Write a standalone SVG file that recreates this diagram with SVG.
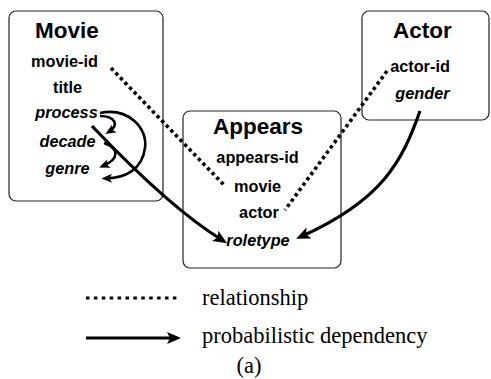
<svg xmlns="http://www.w3.org/2000/svg" width="491" height="379" viewBox="0 0 491 379">
<style>
.box{fill:#fff;stroke:#222;stroke-width:1.2}
.t{font-family:"Liberation Sans",Arial,sans-serif;font-weight:bold;font-size:22.5px;text-anchor:middle;fill:#000}
.a{font-family:"Liberation Sans",Arial,sans-serif;font-weight:bold;font-size:16.3px;text-anchor:middle;fill:#000}
.i{font-style:italic}
.leg{font-family:"Liberation Serif","Times New Roman",serif;font-size:22.5px;fill:#000}
.dot{fill:none;stroke:#000;stroke-width:3.6;stroke-dasharray:3.4 3.2}
.dep{fill:none;stroke:#000;stroke-width:3.2}
.dep2{fill:none;stroke:#000;stroke-width:2.6}
</style>
<defs>
<marker id="ah" markerUnits="userSpaceOnUse" markerWidth="15" markerHeight="13" refX="8" refY="6" orient="auto" overflow="visible">
<path d="M0,0 L14,6 L0,12 L3,6 z" fill="#000"/>
</marker>
<marker id="ahs" markerUnits="userSpaceOnUse" markerWidth="11" markerHeight="10" refX="7" refY="4.5" orient="auto" overflow="visible">
<path d="M0,0 L10.5,4.5 L0,9 L2.5,4.5 z" fill="#000"/>
</marker>
</defs>
<g id="movie">
<rect class="box" x="9" y="11" width="154" height="190" rx="7"/>
<text class="t" x="67" y="38">Movie</text>
<text class="a" x="64.5" y="67">movie-id</text>
<text class="a" x="67.5" y="93">title</text>
<text class="a i" x="66.5" y="118">process</text>
<text class="a i" x="67.5" y="147">decade</text>
<text class="a i" x="67.5" y="174">genre</text>
</g>
<g id="appears">
<rect class="box" x="183" y="111" width="158" height="157" rx="7"/>
<text class="t" x="258" y="134">Appears</text>
<text class="a" x="257.5" y="163">appears-id</text>
<text class="a" x="257.5" y="191.5">movie</text>
<text class="a" x="259" y="218">actor</text>
<text class="a i" x="258" y="246">roletype</text>
</g>
<g id="actor">
<rect class="box" x="362" y="11" width="127" height="109" rx="7"/>
<text class="t" x="422.5" y="38">Actor</text>
<text class="a" x="420" y="71.5">actor-id</text>
<text class="a i" x="422.5" y="99">gender</text>
</g>
<g id="connectors">
<path class="dot" d="M111,68 L225,186"/>
<path class="dot" d="M387,71 L285,210"/>
<path class="dep" d="M92,126 Q170,208 222,240" marker-end="url(#ah)"/>
<path class="dep" d="M420,111 C402,162 382,200 301.6,236.3" marker-end="url(#ah)"/>
<path class="dep2" d="M100,116 C115,116 120,125 108.4,132.2" marker-end="url(#ahs)"/>
<path class="dep2" d="M104,143 C119,148 120,159 102.4,166.2" marker-end="url(#ahs)"/>
<path class="dep2" d="M100,113 C128,107 148,128 145,148 C142,170 125,178 105,178.5" marker-end="url(#ahs)"/>
</g>
<g id="legend">
<path class="dot" d="M86,298 L180,298" style="stroke-dasharray:3.5 4.4;stroke-width:3.2"/>
<text class="leg" x="202" y="305">relationship</text>
<path class="dep" d="M86,338 L175,338" marker-end="url(#ah)"/>
<text class="leg" x="202" y="343.3">probabilistic dependency</text>
<text class="leg" x="249" y="373" text-anchor="middle">(a)</text>
</g>
</svg>
